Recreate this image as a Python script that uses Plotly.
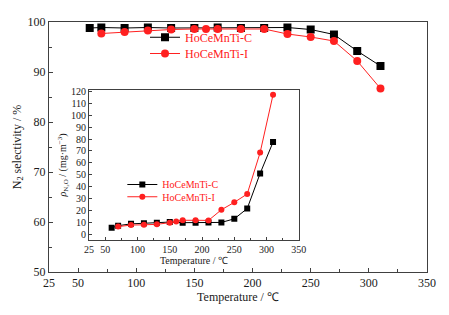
import plotly.graph_objects as go

# ---- data ----
temp_c = [60, 70, 90, 110, 130, 150, 170, 190, 210, 230, 250, 270, 290, 310]
sel_c = [98.8, 98.9, 98.8, 98.9, 98.8, 98.8, 98.9, 98.8, 98.8, 98.9, 98.5, 97.5, 94.2, 91.2]
temp_i = [70, 90, 110, 130, 150, 160, 170, 190, 210, 230, 250, 270, 290, 310]
sel_i = [97.7, 98.0, 98.3, 98.5, 98.6, 98.6, 98.6, 98.6, 98.6, 97.6, 97.0, 96.2, 92.2, 86.7]
n2o_c = [5.7, 7.5, 9.0, 9.5, 10.0, 10.5, 10.0, 10.0, 10.2, 10.2, 13.2, 21.8, 51.2, 77.4]
n2o_i = [6.7, 8.0, 8.2, 8.6, 10.0, 11.0, 12.0, 12.0, 11.9, 20.8, 27.0, 34.0, 68.7, 117.0]
x_ticks = [25, 50, 100, 150, 200, 250, 300, 350]
y_main_ticks = [50, 60, 70, 80, 90, 100]
y_inset_ticks = list(range(0, 121, 10))

BLACK = "#000000"
RED = "#ff2020"
FONT = "Liberation Serif"
AX = "#404040"

fig = go.Figure()
fig.add_trace(go.Scatter(x=temp_c, y=sel_c, mode="lines+markers", name="HoCeMnTi-C",
                         legend="legend", showlegend=True,
                         line=dict(color=BLACK, width=1),
                         marker=dict(symbol="square", size=8, color=BLACK)))
fig.add_trace(go.Scatter(x=temp_i, y=sel_i, mode="lines+markers", name="HoCeMnTi-I",
                         legend="legend2", showlegend=True,
                         line=dict(color=RED, width=1),
                         marker=dict(symbol="circle", size=8, color=RED)))
fig.add_trace(go.Scatter(x=temp_c, y=n2o_c, mode="lines+markers", name="HoCeMnTi-C",
                         xaxis="x2", yaxis="y2", legend="legend3", showlegend=True,
                         line=dict(color=BLACK, width=1),
                         marker=dict(symbol="square", size=6, color=BLACK)))
fig.add_trace(go.Scatter(x=temp_i, y=n2o_i, mode="lines+markers", name="HoCeMnTi-I",
                         xaxis="x2", yaxis="y2", legend="legend4", showlegend=True,
                         line=dict(color=RED, width=1),
                         marker=dict(symbol="circle", size=6, color=RED)))

axis_common = dict(showline=True, linecolor=AX, linewidth=1, mirror=True,
                   ticks="inside", tickcolor=AX, showgrid=False, zeroline=False,
                   automargin=True)

def leg(x, y, size):
    return dict(x=x, y=y, xanchor="left", yanchor="middle",
                bgcolor="rgba(0,0,0,0)", font=dict(size=size, color=RED, family=FONT))

# page body has an 8px default margin, so the figure is drawn 8px in from the corner
fig.update_layout(
    width=441, height=307,
    margin=dict(l=41, r=22, t=7, b=43),
    showlegend=True,
    paper_bgcolor="white", plot_bgcolor="white",
    font=dict(family=FONT, size=12, color="#1a1a1a"),
    xaxis=dict(range=[25, 350], tickvals=x_ticks, ticklen=4,
               minor=dict(ticks="inside", dtick=25, tick0=25, ticklen=3, tickcolor=AX),
               tickfont=dict(size=12),
               title=dict(text="Temperature / ℃", font=dict(size=12), standoff=3),
               **axis_common),
    yaxis=dict(range=[50, 100], tickvals=y_main_ticks, ticklen=4,
               minor=dict(ticks="inside", dtick=5, tick0=50, ticklen=3, tickcolor=AX),
               tickfont=dict(size=12),
               title=dict(text="N<sub>2</sub> selectivity / %", font=dict(size=12), standoff=3),
               **axis_common),
    xaxis2=dict(domain=[0.106, 0.661], anchor="y2", range=[25, 350], tickvals=x_ticks,
                ticklen=3,
                minor=dict(ticks="inside", dtick=25, tick0=25, ticklen=2, tickcolor=AX),
                tickfont=dict(size=10),
                title=dict(text="Temperature / ℃", font=dict(size=10), standoff=2),
                **axis_common),
    yaxis2=dict(domain=[0.128, 0.728], anchor="x2", range=[-4.5, 121], tickvals=y_inset_ticks,
                ticklen=3, tickfont=dict(size=10),
                title=dict(text="<i>ρ</i><sub>N₂O</sub> / (mg·m<sup>−3</sup>)",
                           font=dict(size=10), standoff=2),
                **axis_common),
    legend=leg(0.254, 0.939, 12),
    legend2=leg(0.254, 0.874, 12),
    legend3=leg(0.194, 0.350, 10),
    legend4=leg(0.194, 0.301, 10),
)

fig.write_html("out.html")
